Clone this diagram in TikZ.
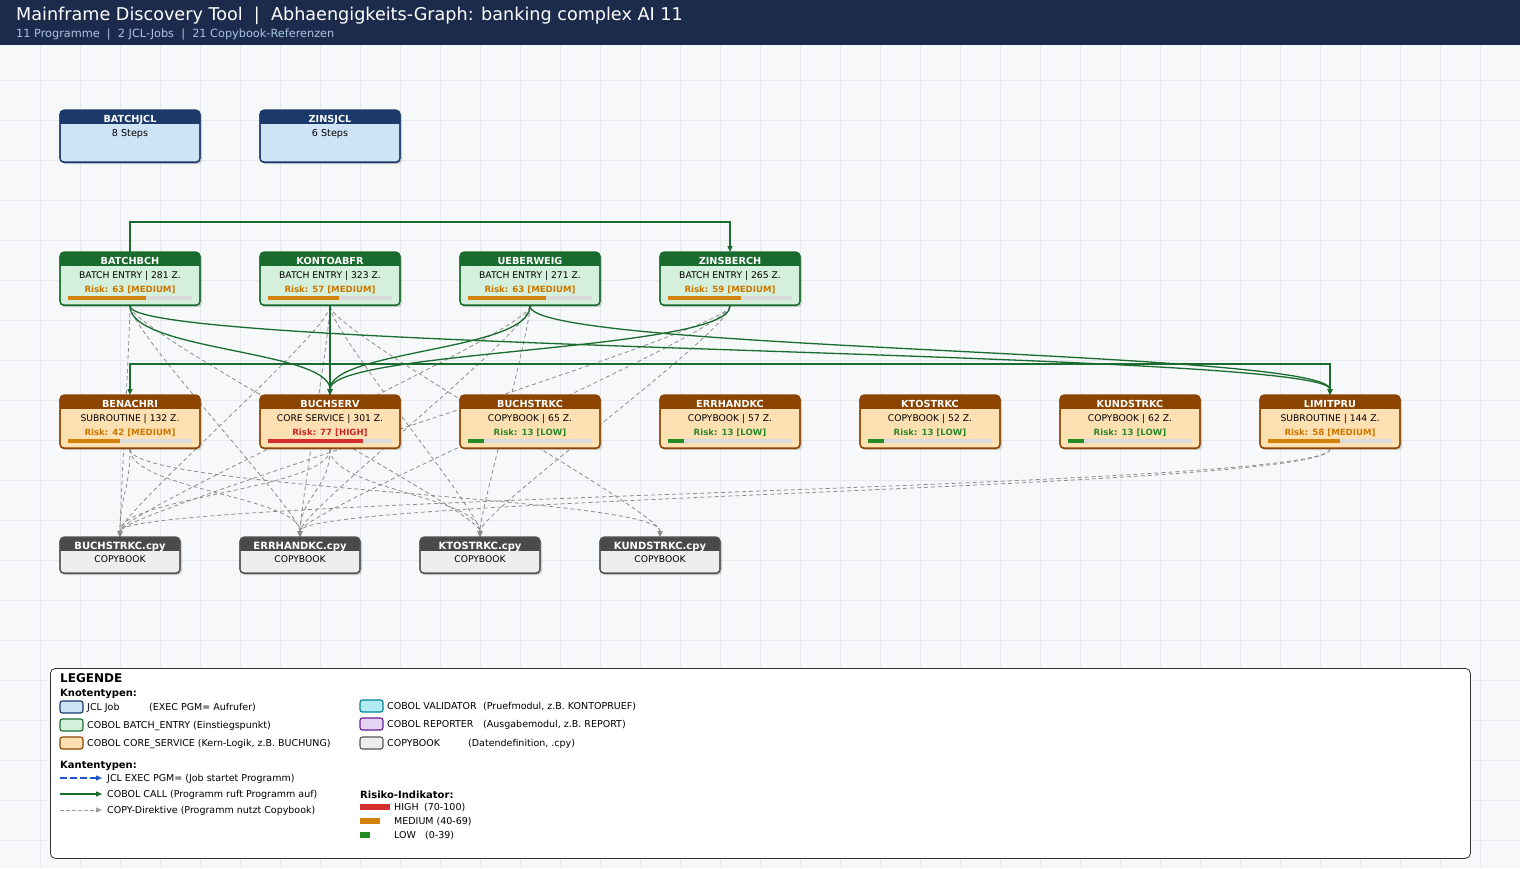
\documentclass[tikz,border=0pt]{standalone}
\usepackage{fontspec}
\setmainfont{DejaVu Sans}
\usetikzlibrary{arrows.meta}
\pgfdeclarelayer{bg}\pgfdeclarelayer{edges}
\pgfsetlayers{bg,edges,main}
\definecolor{pagebg}{HTML}{F7F8FA}
\definecolor{gridc}{HTML}{E6E9EE}
\definecolor{hdrbg}{HTML}{1C2B4B}
\definecolor{hdrsub}{HTML}{A9C3E6}
\definecolor{jclHead}{HTML}{1B3A6B}
\definecolor{jclFill}{HTML}{CFE3F7}
\definecolor{batHead}{HTML}{1A6B2E}
\definecolor{batFill}{HTML}{D4EFDB}
\definecolor{corHead}{HTML}{8B4500}
\definecolor{corFill}{HTML}{FFE0B3}
\definecolor{cpyHead}{HTML}{4A4A4A}
\definecolor{cpyFill}{HTML}{EEEEEE}
\definecolor{cpyBorder}{HTML}{555555}
\definecolor{txtHIGH}{HTML}{C62828}
\definecolor{barHIGH}{HTML}{D32F2F}
\definecolor{txtMEDIUM}{HTML}{CC7700}
\definecolor{barMEDIUM}{HTML}{D4820A}
\definecolor{txtLOW}{HTML}{2A8A2A}
\definecolor{barLOW}{HTML}{228B22}
\definecolor{bargray}{HTML}{DADADA}
\definecolor{callgreen}{HTML}{1A6B2E}
\definecolor{copygray}{HTML}{8C8C8C}
\definecolor{jclblue}{HTML}{2255CC}
\definecolor{valHead}{HTML}{00838F}
\definecolor{valFill}{HTML}{B2EBF2}
\definecolor{repHead}{HTML}{6A1B9A}
\definecolor{repFill}{HTML}{E4D4F4}
\tikzset{
  ttl/.style={text=white, font=\bfseries\fontsize{9.7}{11}\selectfont, inner sep=0pt, anchor=base},
  cttl/.style={text=white, font=\bfseries\fontsize{10}{11}\selectfont, inner sep=0pt, anchor=base},
  sub/.style={text=black, font=\fontsize{9.2}{10}\selectfont, inner sep=0pt, anchor=base},
  risk/.style={font=\bfseries\fontsize{8.6}{10}\selectfont, inner sep=0pt, anchor=base},
  call/.style={draw=callgreen, line width=1.3pt, -{Triangle[length=6pt,width=5pt]}},
  copyedge/.style={draw=copygray, line width=0.8pt, dash pattern=on 4pt off 3pt, -{Triangle[length=6pt,width=5pt]}},
  legtxt/.style={font=\fontsize{9.5}{11}\selectfont, inner sep=0pt, anchor=base west},
  leghd/.style={font=\bfseries\fontsize{10}{11}\selectfont, inner sep=0pt, anchor=base west},
  swatch/.style={line width=1.1pt, rounded corners=2.5pt},
}
% program node: name, x, ytop, type, title, subtitle, risk, level
\newcommand{\prognode}[8]{%
  \fill[black,opacity=0.16,rounded corners=4pt] (#2-68,#3+2) rectangle (#2+72,#3+55);
  \node[draw=#4Head, fill=#4Fill, line width=1.1pt, rounded corners=4pt, minimum width=140pt, minimum height=53pt, inner sep=0pt, anchor=north] (#1) at (#2,#3) {};
  \begin{scope}
    \clip[rounded corners=4pt] (#2-70,#3) rectangle (#2+70,#3+53);
    \fill[#4Head] (#2-70,#3) rectangle (#2+70,#3+14);
  \end{scope}
  \draw[#4Head, line width=1.1pt, rounded corners=4pt] (#2-70,#3) rectangle (#2+70,#3+53);
  \node[ttl] at (#2,#3+12) {#5};
  \node[sub] at (#2,#3+26) {#6};
  \node[risk, text=txt#8] at (#2,#3+40.5) {Risk: #7 [#8]};
  \fill[bargray] (#2-62,#3+44) rectangle (#2+62,#3+48);
  \fill[bar#8] (#2-62,#3+44) rectangle (#2-62+1.24*#7,#3+48);
}
% jcl node: name, x, ytop, title, subtitle
\newcommand{\jclnode}[5]{%
  \fill[black,opacity=0.16,rounded corners=4pt] (#2-68,#3+2) rectangle (#2+72,#3+54);
  \node[draw=jclHead, fill=jclFill, line width=1.1pt, rounded corners=4pt, minimum width=140pt, minimum height=52pt, inner sep=0pt, anchor=north] (#1) at (#2,#3) {};
  \begin{scope}
    \clip[rounded corners=4pt] (#2-70,#3) rectangle (#2+70,#3+52);
    \fill[jclHead] (#2-70,#3) rectangle (#2+70,#3+14);
  \end{scope}
  \draw[jclHead, line width=1.1pt, rounded corners=4pt] (#2-70,#3) rectangle (#2+70,#3+52);
  \node[ttl] at (#2,#3+12.5) {#4};
  \node[sub, font=\fontsize{9.6}{11}\selectfont] at (#2,#3+26) {#5};
}
% copybook file node: name, x, ytop, title
\newcommand{\cpynode}[4]{%
  \fill[black,opacity=0.16,rounded corners=4pt] (#2-58,#3+2) rectangle (#2+62,#3+38);
  \node[draw=cpyBorder, fill=cpyFill, line width=1.1pt, rounded corners=4pt, minimum width=120pt, minimum height=36pt, inner sep=0pt, anchor=north] (#1) at (#2,#3) {};
  \begin{scope}
    \clip[rounded corners=4pt] (#2-60,#3) rectangle (#2+60,#3+36);
    \fill[cpyHead] (#2-60,#3) rectangle (#2+60,#3+14);
  \end{scope}
  \draw[cpyBorder, line width=1.1pt, rounded corners=4pt] (#2-60,#3) rectangle (#2+60,#3+36);
  \node[cttl] at (#2,#3+12) {#4};
  \node[sub] at (#2,#3+25) {COPYBOOK};
}
\begin{document}
\begin{tikzpicture}[x=1pt,y=-1pt]
\useasboundingbox (0,0) rectangle (1520,868);
\begin{pgfonlayer}{bg}
  \fill[pagebg] (0,0) rectangle (1520,868);
  \foreach \gx in {40,80,...,1480} \draw[gridc,line width=0.6pt] (\gx,45) -- (\gx,868);
  \foreach \gy in {80,120,...,840} \draw[gridc,line width=0.6pt] (0,\gy) -- (1520,\gy);
  \fill[hdrbg] (0,0) rectangle (1520,45);
\end{pgfonlayer}
\node[anchor=base west, inner sep=0pt, text=white, font=\fontsize{17.6}{20}\selectfont] (title) at (16,20) {Mainframe Discovery Tool\ \ |\ \ Abhaengigkeits-Graph: banking complex AI 11};
\node[anchor=base west, inner sep=0pt, text=hdrsub, font=\fontsize{11.3}{13}\selectfont] (subtitle) at (16,37.8) {11 Programme\ \ |\ \ 2 JCL-Jobs\ \ |\ \ 21 Copybook-Referenzen};

% nodes
\jclnode{batchjcl}{130}{110}{BATCHJCL}{8 Steps}
\jclnode{zinsjcl}{330}{110}{ZINSJCL}{6 Steps}

\prognode{batchbch}{130}{252}{bat}{BATCHBCH}{BATCH ENTRY | 281 Z.}{63}{MEDIUM}
\prognode{kontoabfr}{330}{252}{bat}{KONTOABFR}{BATCH ENTRY | 323 Z.}{57}{MEDIUM}
\prognode{ueberweig}{530}{252}{bat}{UEBERWEIG}{BATCH ENTRY | 271 Z.}{63}{MEDIUM}
\prognode{zinsberch}{730}{252}{bat}{ZINSBERCH}{BATCH ENTRY | 265 Z.}{59}{MEDIUM}

\prognode{benachri}{130}{395}{cor}{BENACHRI}{SUBROUTINE | 132 Z.}{42}{MEDIUM}
\prognode{buchserv}{330}{395}{cor}{BUCHSERV}{CORE SERVICE | 301 Z.}{77}{HIGH}
\prognode{buchstrkc}{530}{395}{cor}{BUCHSTRKC}{COPYBOOK | 65 Z.}{13}{LOW}
\prognode{errhandkc}{730}{395}{cor}{ERRHANDKC}{COPYBOOK | 57 Z.}{13}{LOW}
\prognode{ktostrkc}{930}{395}{cor}{KTOSTRKC}{COPYBOOK | 52 Z.}{13}{LOW}
\prognode{kundstrkc}{1130}{395}{cor}{KUNDSTRKC}{COPYBOOK | 62 Z.}{13}{LOW}
\prognode{limitpru}{1330}{395}{cor}{LIMITPRU}{SUBROUTINE | 144 Z.}{58}{MEDIUM}

\cpynode{cbuch}{120}{537}{BUCHSTRKC.cpy}
\cpynode{cerr}{300}{537}{ERRHANDKC.cpy}
\cpynode{ckto}{480}{537}{KTOSTRKC.cpy}
\cpynode{ckund}{660}{537}{KUNDSTRKC.cpy}

% edges
\begin{pgfonlayer}{edges}
  % COPY edges (layer 1 -> copybooks)
  \foreach \s in {batchbch,kontoabfr,ueberweig,zinsberch} {
    \foreach \t in {cbuch,cerr,ckto} {
      \draw[copyedge] (\s.south) .. controls +(0,25) and +(0,-25) .. (\t.north);
    }
  }
  \draw[copyedge] (kontoabfr.south) .. controls +(0,25) and +(0,-25) .. (ckund.north);
  % COPY edges (layer 2 -> copybooks)
  \foreach \t in {cbuch,cerr,ckund}
    \draw[copyedge] (benachri.south) .. controls +(0,40) and +(0,-40) .. (\t.north);
  \foreach \t in {cbuch,cerr,ckto}
    \draw[copyedge] (buchserv.south) .. controls +(0,40) and +(0,-40) .. (\t.north);
  \foreach \t in {cbuch,cerr}
    \draw[copyedge] (limitpru.south) .. controls +(0,40) and +(0,-40) .. (\t.north);
  % CALL edges
  \draw[call] (batchbch.north) -- ++(0,-30) -| (zinsberch.north);
  \draw[call] (buchserv.north) -- ++(0,-31) -| (benachri.north);
  \draw[call] (buchserv.north) -- ++(0,-31) -| (limitpru.north);
  \draw[call] (kontoabfr.south) -- (buchserv.north);
  \draw[call] (batchbch.south) .. controls +(0,45) and +(0,-45) .. (buchserv.north);
  \draw[call] (ueberweig.south) .. controls +(0,45) and +(0,-45) .. (buchserv.north);
  \draw[call] (zinsberch.south) .. controls +(0,45) and +(0,-45) .. (buchserv.north);
  \draw[call] (batchbch.south) .. controls +(0,45) and +(0,-45) .. (limitpru.north);
  \draw[call] (ueberweig.south) .. controls +(0,45) and +(0,-45) .. (limitpru.north);
\end{pgfonlayer}

% legend
\node[draw=black!80, fill=white, line width=0.8pt, rounded corners=5pt, minimum width=1420pt, minimum height=190pt, inner sep=0pt, anchor=north west] (legend) at (50,668) {};
\node[anchor=base west, inner sep=0pt, font=\bfseries\fontsize{12}{14}\selectfont] (legtitle) at (60,682) {LEGENDE};
\node[leghd] (knoten) at (60,696) {Knotentypen:};
\draw[swatch, draw=jclHead, fill=jclFill] (60,701) rectangle (83,713);
\draw[swatch, draw=batHead, fill=batFill] (60,719) rectangle (83,731);
\draw[swatch, draw=corHead, fill=corFill] (60,737) rectangle (83,749);
\node[legtxt] (l1) at (87,710) {JCL Job};
\node[legtxt] (l1b) at (149,710) {(EXEC PGM= Aufrufer)};
\node[legtxt] (l2) at (87,728) {COBOL BATCH\_ENTRY (Einstiegspunkt)};
\node[legtxt] (l3) at (87,746) {COBOL CORE\_SERVICE (Kern-Logik, z.B. BUCHUNG)};
\draw[swatch, draw=valHead, fill=valFill] (360,700) rectangle (383,712);
\draw[swatch, draw=repHead, fill=repFill] (360,718) rectangle (383,730);
\draw[swatch, draw=cpyBorder, fill=cpyFill] (360,737) rectangle (383,749);
\node[legtxt] (l4) at (387,709.5) {COBOL VALIDATOR};
\node[legtxt] (l4b) at (483,709.5) {(Pruefmodul, z.B. KONTOPRUEF)};
\node[legtxt] (l5) at (387,727.5) {COBOL REPORTER};
\node[legtxt] (l5b) at (483,727.5) {(Ausgabemodul, z.B. REPORT)};
\node[legtxt] (l6) at (387,746) {COPYBOOK};
\node[legtxt] (l6b) at (468,746) {(Datendefinition, .cpy)};

\node[leghd] (kanten) at (60,768) {Kantentypen:};
\coordinate (e1a) at (60,778); \coordinate (e1b) at (102,778);
\coordinate (e2a) at (60,794); \coordinate (e2b) at (102,794);
\coordinate (e3a) at (60,810); \coordinate (e3b) at (102,810);
\draw[draw=jclblue, line width=1.3pt, dash pattern=on 7pt off 3pt, -{Triangle[length=6pt,width=5pt]}] (e1a) -- (e1b);
\draw[call] (e2a) -- (e2b);
\draw[draw=copygray!85, line width=0.9pt, dash pattern=on 4pt off 2pt, -{Triangle[length=6pt,width=5pt]}] (e3a) -- (e3b);
\node[legtxt] (k1) at (107,781.5) {JCL EXEC PGM= (Job startet Programm)};
\node[legtxt] (k2) at (107,797.5) {COBOL CALL (Programm ruft Programm auf)};
\node[legtxt] (k3) at (107,813.5) {COPY-Direktive (Programm nutzt Copybook)};

\node[leghd] (risiko) at (360,798) {Risiko-Indikator:};
\fill[barHIGH] (360,804) rectangle (390,809.5);
\fill[barMEDIUM] (360,818) rectangle (380,823.5);
\fill[barLOW] (360,832) rectangle (370,837.5);
\node[legtxt] (r1) at (394,810) {HIGH};
\node[legtxt] (r1b) at (424,810) {(70-100)};
\node[legtxt] (r2) at (394,824) {MEDIUM (40-69)};
\node[legtxt] (r3) at (394,838) {LOW};
\node[legtxt] (r3b) at (425,838) {(0-39)};
\end{tikzpicture}
\end{document}
